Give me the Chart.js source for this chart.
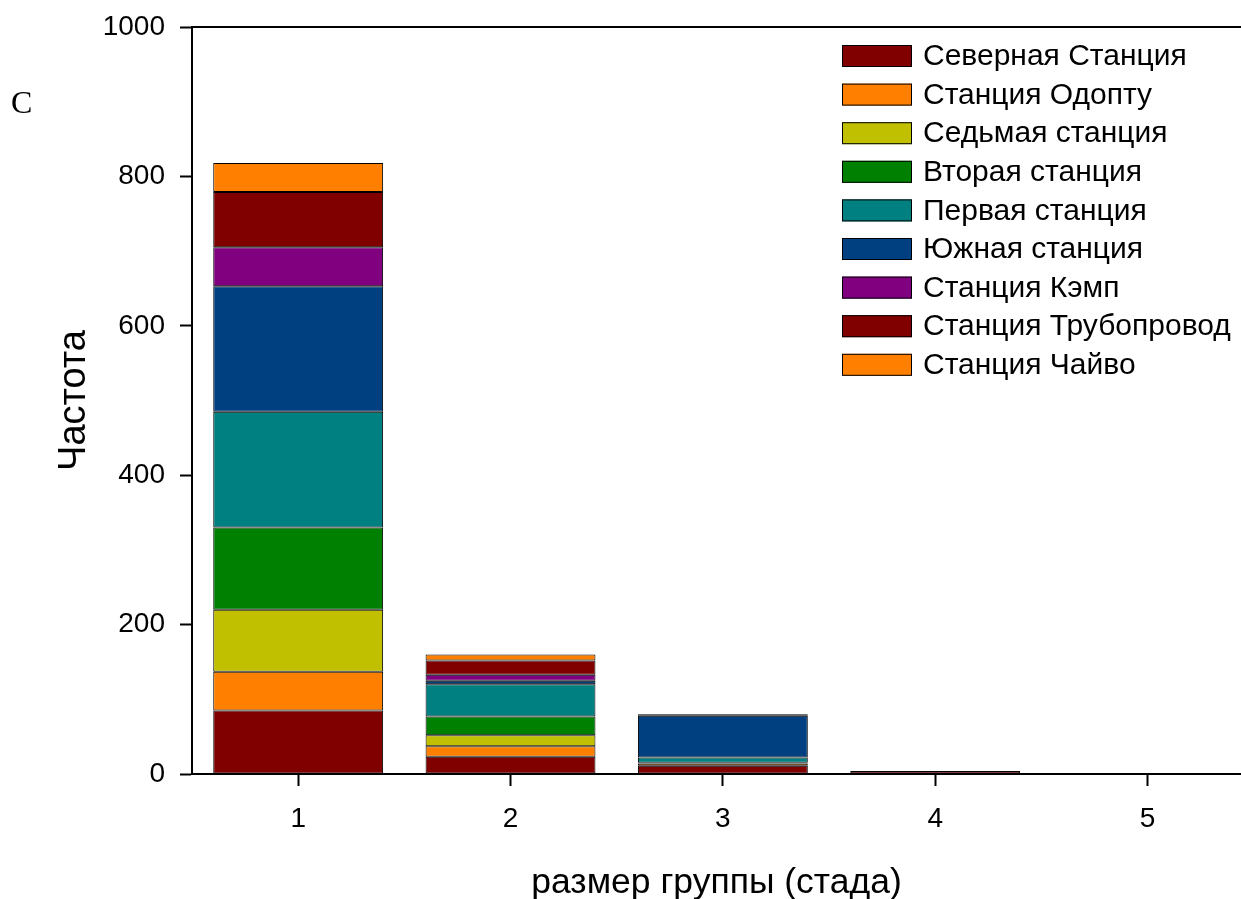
<!DOCTYPE html>
<html>
<head>
<meta charset="utf-8">
<script src="https://cdn.jsdelivr.net/npm/chart.js@4"></script>
<style>
html,body{margin:0;padding:0;background:#fff;overflow:hidden;}
#wrap{width:1241px;height:899px;position:relative;}
</style>
</head>
<body>
<div id="wrap"><canvas id="c" width="1241" height="899"></canvas></div>
<script>
// ---- data ----
const groupSizes = [1, 2, 3, 4, 5];
const xTicks = [1, 2, 3, 4, 5];
const yTicks = [0, 200, 400, 600, 800, 1000];
const stationNames = ['Северная Станция','Станция Одопту','Седьмая станция','Вторая станция','Первая станция','Южная станция','Станция Кэмп','Станция Трубопровод','Станция Чайво'];
const stationColors = ['#800000','#FF8000','#C0C000','#008000','#008080','#004080','#800080','#800000','#FF8000'];
const severnaya   = [85, 23, 11, 4, null];
const odoptu      = [52, 14, 3, null, null];
const sedmaya     = [83, 15, null, null, null];
const vtoraya     = [110, 25, 1, null, null];
const pervaya     = [155, 43, 7, null, null];
const yuzhnaya    = [168, 5, 56, null, null];
const kemp        = [52, 8, null, null, null];
const truboprovod = [74, 19, 2, null, null];
const chayvo      = [39, 8, null, null, null];
const seriesValues = [severnaya, odoptu, sedmaya, vtoraya, pervaya, yuzhnaya, kemp, truboprovod, chayvo];
const panelLetter = 'C';

const FONT = '"Liberation Sans", Arial, sans-serif';

const datasets = seriesValues.map((vals, i) => ({
  label: stationNames[i],
  data: groupSizes.map((g, j) => ({x: g, y: vals[j]})),
  backgroundColor: stationColors[i],
  borderColor: '#000',
  borderWidth: 1,
  borderSkipped: false,
  categoryPercentage: 1.0,
  barPercentage: 0.8
}));

const overlay = {
  id: 'overlay',
  afterDraw(chart) {
    const ctx = chart.ctx;
    const a = chart.chartArea;
    ctx.save();
    // top frame line
    ctx.strokeStyle = '#000';
    ctx.lineWidth = 2;
    ctx.beginPath();
    ctx.moveTo(a.left - 1, a.top);
    ctx.lineTo(a.right, a.top);
    ctx.stroke();
    // legend
    ctx.font = '30px ' + FONT;
    ctx.textBaseline = 'middle';
    ctx.textAlign = 'left';
    chart.data.datasets.forEach((ds, i) => {
      const y = 45 + i * 38.6;
      ctx.fillStyle = ds.backgroundColor;
      ctx.fillRect(842, y, 70, 22);
      ctx.lineWidth = 1;
      ctx.strokeStyle = '#000';
      ctx.strokeRect(842.5, y + 0.5, 69, 21);
      ctx.fillStyle = '#000';
      ctx.fillText(ds.label, 923, y + 12);
    });
    // panel letter
    ctx.font = '32px "Liberation Serif", "Times New Roman", serif';
    ctx.fillText(panelLetter, 11, 105);
    ctx.restore();
  }
};

new Chart(document.getElementById('c'), {
  type: 'bar',
  data: { datasets },
  options: {
    responsive: false,
    animation: false,
    layout: { padding: { top: 27, right: 0, left: 0, bottom: 0 } },
    plugins: { legend: { display: false }, tooltip: { enabled: false } },
    scales: {
      x: {
        type: 'linear',
        stacked: true,
        offset: false,
        min: 0.5,
        max: 5.44,
        afterBuildTicks: s => { s.ticks = xTicks.map(v => ({value: v})); },
        afterFit: s => { s.height = 125; s.paddingLeft = 0; s.paddingRight = 0; },
        grid: { display: true, drawOnChartArea: false, drawTicks: true, tickLength: 12, tickWidth: 2, tickColor: '#000', offset: false },
        border: { display: true, color: '#000', width: 2 },
        ticks: { color: '#000', font: { family: FONT, size: 28 }, padding: 16, maxRotation: 0, callback: v => String(v) },
        title: { display: true, text: 'размер группы (стада)', color: '#000', font: { family: FONT, size: 35.5, lineHeight: 0.9 }, padding: { top: 0, bottom: 0 } }
      },
      y: {
        type: 'linear',
        stacked: true,
        min: 0,
        max: 1000,
        afterBuildTicks: s => { s.ticks = yTicks.map(v => ({value: v})); },
        afterFit: s => { s.width = 192; s.paddingTop = 0; s.paddingBottom = 0; },
        grid: { display: true, drawOnChartArea: false, drawTicks: true, tickLength: 12, tickWidth: 2, tickColor: '#000' },
        border: { display: true, color: '#000', width: 2 },
        ticks: { color: '#000', font: { family: FONT, size: 28 }, padding: 15, callback: v => String(v) },
        title: { display: true, text: 'Частота', color: '#000', font: { family: FONT, size: 38, lineHeight: 1.1 }, padding: { top: 54, bottom: 0 } }
      }
    }
  },
  plugins: [overlay]
});
</script>
</body>
</html>
